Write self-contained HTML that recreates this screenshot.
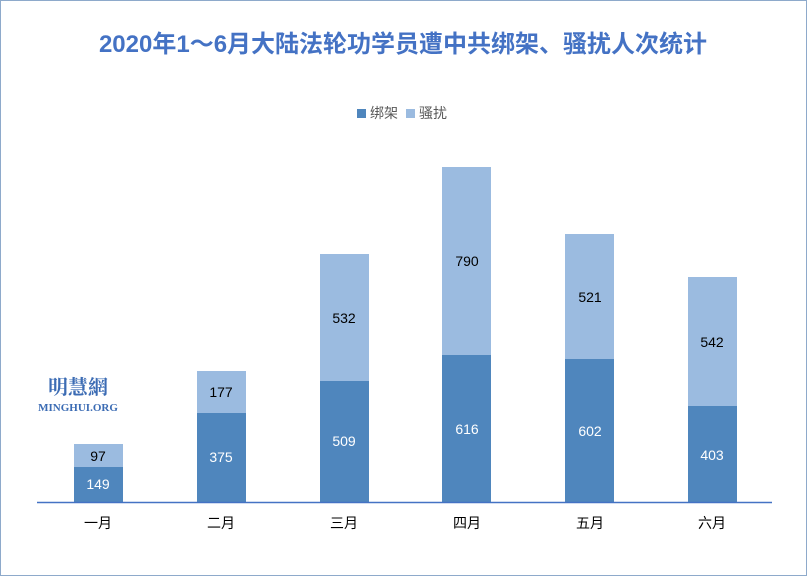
<!DOCTYPE html>
<html><head><meta charset="utf-8"><style>
body{margin:0;width:807px;height:576px;overflow:hidden;background:#fff;font-family:"Liberation Sans","Noto Sans CJK SC",sans-serif;}
</style></head><body>
<svg width="807" height="576" xmlns="http://www.w3.org/2000/svg" font-family="Liberation Sans, Noto Sans CJK SC, sans-serif">
<rect x="0.5" y="0.5" width="806" height="575" fill="#fff" stroke="#8eaacb"/>
<text x="403" y="52" text-anchor="middle" font-size="24" font-weight="bold" fill="#4472c4">2020年1～6月大陆法轮功学员遭中共绑架、骚扰人次统计</text>
<rect x="357" y="109" width="9" height="9" fill="#4f86bd"/>
<text x="370" y="118" font-size="14" fill="#595959">绑架</text>
<rect x="406" y="109" width="9" height="9" fill="#9bbbe0"/>
<text x="419" y="118" font-size="14" fill="#595959">骚扰</text>
<text x="78" y="394" text-anchor="middle" font-size="20" font-weight="bold" fill="#3c6cb4" font-family="Noto Serif CJK SC, serif">明慧網</text>
<text x="78" y="411" text-anchor="middle" font-size="11" font-weight="bold" fill="#3c6cb4" font-family="Liberation Serif, serif">MINGHUI.ORG</text>
<g font-size="14" text-anchor="middle">
<rect x="74" y="467" width="49" height="35" fill="#4f86bd"/><rect x="74" y="444" width="49" height="23" fill="#9bbbe0"/>
<text x="98" y="489" fill="#fff">149</text><text x="98" y="461" fill="#000">97</text>
<rect x="197" y="413" width="49" height="89" fill="#4f86bd"/><rect x="197" y="371" width="49" height="42" fill="#9bbbe0"/>
<text x="221" y="462" fill="#fff">375</text><text x="221" y="397" fill="#000">177</text>
<rect x="320" y="381" width="49" height="121" fill="#4f86bd"/><rect x="320" y="254" width="49" height="127" fill="#9bbbe0"/>
<text x="344" y="446" fill="#fff">509</text><text x="344" y="323" fill="#000">532</text>
<rect x="442" y="355" width="49" height="147" fill="#4f86bd"/><rect x="442" y="167" width="49" height="188" fill="#9bbbe0"/>
<text x="467" y="434" fill="#fff">616</text><text x="467" y="266" fill="#000">790</text>
<rect x="565" y="359" width="49" height="143" fill="#4f86bd"/><rect x="565" y="234" width="49" height="125" fill="#9bbbe0"/>
<text x="590" y="436" fill="#fff">602</text><text x="590" y="302" fill="#000">521</text>
<rect x="688" y="406" width="49" height="96" fill="#4f86bd"/><rect x="688" y="277" width="49" height="129" fill="#9bbbe0"/>
<text x="712" y="460" fill="#fff">403</text><text x="712" y="347" fill="#000">542</text>
</g>
<line x1="37" y1="502.5" x2="772" y2="502.5" stroke="#4472c4" stroke-width="1.5"/>
<g font-size="14" text-anchor="middle" fill="#000">
<text x="98" y="528">一月</text><text x="221" y="528">二月</text><text x="344" y="528">三月</text>
<text x="467" y="528">四月</text><text x="590" y="528">五月</text><text x="712" y="528">六月</text>
</g>
</svg>
</body></html>
